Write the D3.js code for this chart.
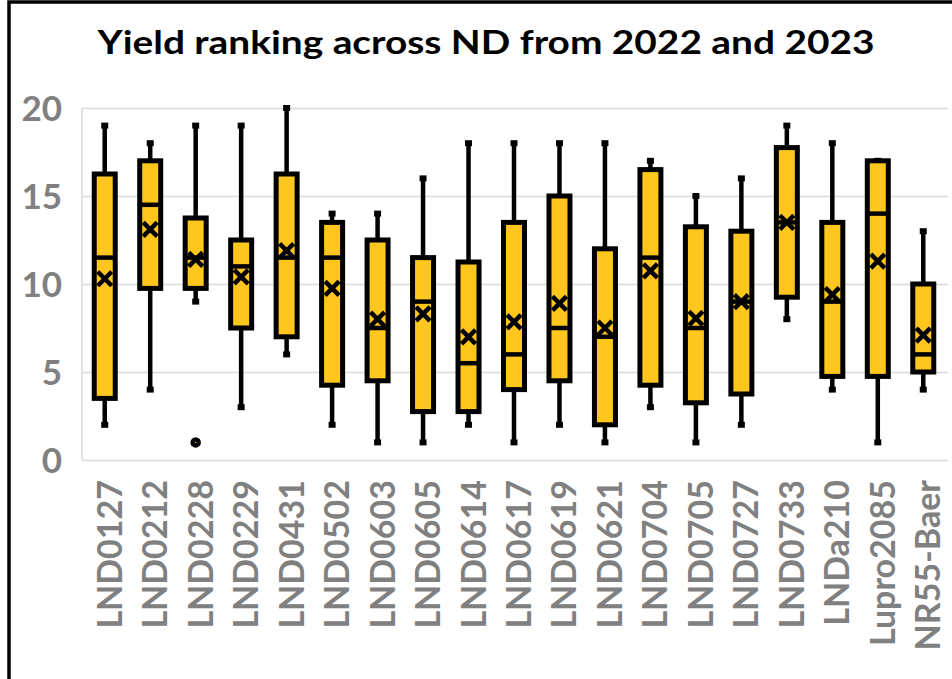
<!DOCTYPE html>
<html>
<head>
<meta charset="utf-8">
<script src="https://cdn.jsdelivr.net/npm/d3@7"></script>
<style>
  html, body { margin: 0; padding: 0; background: #fff; }
  svg { display: block; }
  .chart-box__title { font-family: Lato, "Open Sans", sans-serif; font-weight: 700; fill: #000; }
  .chart-box__tick { font-family: Lato, "Open Sans", sans-serif; font-weight: 700; fill: #808080; }
</style>
</head>
<body>
<div id="chart"></div>
<script>
// DATA ---------------------------------------------------------------
const categories = ["LND0127","LND0212","LND0228","LND0229","LND0431","LND0502","LND0603",
  "LND0605","LND0614","LND0617","LND0619","LND0621","LND0704","LND0705","LND0727",
  "LND0733","LNDa210","Lupro2085","NR55-Baer"];
const whiskerLow  = [2, 4, 9, 3, 6, 2, 1, 1, 2, 1, 2, 1, 3, 1, 2, 8, 4, 1, 4];
const q1          = [3.5, 9.75, 9.75, 7.5, 7, 4.25, 4.5, 2.75, 2.75, 4, 4.5, 2, 4.25, 3.25, 3.75, 9.25, 4.75, 4.75, 5];
const median      = [11.5, 14.5, 11.5, 11, 11.5, 11.5, 7.5, 9, 5.5, 6, 7.5, 7, 11.5, 7.5, 9, 13.5, 9, 14, 6];
const q3          = [16.25, 17, 13.75, 12.5, 16.25, 13.5, 12.5, 11.5, 11.25, 13.5, 15, 12, 16.5, 13.25, 13, 17.75, 13.5, 17, 10];
const whiskerHigh = [19, 18, 19, 19, 20, 14, 14, 16, 18, 18, 18, 18, 17, 15, 16, 19, 18, 17, 13];
const means       = [10.3, 13.1, 11.4, 10.4, 11.9, 9.75, 8.0, 8.3, 7.0, 7.85, 8.9, 7.5, 10.75, 8.05, 9.0, 13.5, 9.4, 11.3, 7.1];
const outliers    = [{cat: "LND0228", value: 1}];
const yTicks      = [0, 5, 10, 15, 20];
const titleText   = "Yield ranking across ND from 2022 and 2023";

// CHART --------------------------------------------------------------
class BoxChart {
  constructor(div) {
    this.container = div;
    this.settings = {
      width: 952,
      height: 679,
      plot: { left: 82, right: 946, top: 108, bottom: 460 },
      boxWidth: 21,
      fill: "#FFC61E",
      grid: "#D9D9D9",
    };
  }

  render() {
    this.createSvg();
    this.createScales();
    this.drawFrame();
    this.drawGrid();
    this.drawBoxes();
    this.drawAxisLabels();
    this.drawTitle();
  }

  createSvg() {
    const { width, height } = this.settings;
    this.svg = d3.select(this.container).append("svg")
      .attr("class", "chart-box")
      .attr("width", width)
      .attr("height", height);
  }

  createScales() {
    const { plot } = this.settings;
    this.x = d3.scaleBand().domain(categories).range([plot.left, plot.right]).padding(0);
    this.y = d3.scaleLinear().domain([0, 20]).range([plot.bottom, plot.top]);
  }

  drawFrame() {
    // outer chart border (only top/left visible in the crop)
    this.svg.append("rect")
      .attr("x", 9).attr("y", 2)
      .attr("width", 980).attr("height", 720)
      .attr("fill", "none").attr("stroke", "#000").attr("stroke-width", 3.5);
  }

  drawGrid() {
    const { plot, grid } = this.settings;
    const g = this.svg.append("g")
      .attr("class", "chart-box__grid")
      .attr("transform", `translate(${plot.left},0)`)
      .call(d3.axisLeft(this.y).tickValues(yTicks).tickSize(-(plot.right + 2 - plot.left)).tickFormat(""));
    g.select(".domain").remove();
    g.selectAll(".tick line").attr("stroke", grid).attr("stroke-width", 1.5);

    this.svg.append("line")
      .attr("x1", plot.left).attr("x2", plot.left)
      .attr("y1", this.y(20)).attr("y2", this.y(0))
      .attr("stroke", grid).attr("stroke-width", 1.5);
  }

  drawBoxes() {
    const { boxWidth, fill } = this.settings;
    const x = this.x, y = this.y;
    const cx = (c) => x(c) + x.bandwidth() / 2;
    const rows = categories.map((c, i) => ({
      cat: c, lo: whiskerLow[i], q1: q1[i], med: median[i], q3: q3[i], hi: whiskerHigh[i], mean: means[i]
    }));

    const groups = this.svg.append("g").attr("class", "chart-box__boxes")
      .selectAll("g").data(rows).enter().append("g");

    // whiskers
    groups.append("line")
      .attr("x1", d => cx(d.cat)).attr("x2", d => cx(d.cat))
      .attr("y1", d => y(d.hi)).attr("y2", d => y(d.lo))
      .attr("stroke", "#000").attr("stroke-width", 4.5);
    // caps
    ["hi", "lo"].forEach((k) => {
      groups.append("line")
        .attr("x1", d => cx(d.cat) - 3.5).attr("x2", d => cx(d.cat) + 3.5)
        .attr("y1", d => y(d[k])).attr("y2", d => y(d[k]))
        .attr("stroke", "#000").attr("stroke-width", 6);
    });
    // boxes
    groups.append("rect")
      .attr("x", d => cx(d.cat) - boxWidth / 2)
      .attr("width", boxWidth)
      .attr("y", d => y(d.q3))
      .attr("height", d => y(d.q1) - y(d.q3))
      .attr("fill", fill).attr("stroke", "#000").attr("stroke-width", 5);
    // medians
    groups.append("line")
      .attr("x1", d => cx(d.cat) - boxWidth / 2).attr("x2", d => cx(d.cat) + boxWidth / 2)
      .attr("y1", d => y(d.med)).attr("y2", d => y(d.med))
      .attr("stroke", "#000").attr("stroke-width", 4.5);
    // mean markers
    const s = 7;
    groups.append("path")
      .attr("d", d => {
        const px = cx(d.cat), py = y(d.mean);
        return `M${px - s},${py - s}L${px + s},${py + s}M${px - s},${py + s}L${px + s},${py - s}`;
      })
      .attr("stroke", "#000").attr("stroke-width", 4.5).attr("fill", "none");

    // outliers
    this.svg.append("g").selectAll("circle").data(outliers).enter().append("circle")
      .attr("cx", d => cx(d.cat)).attr("cy", d => y(d.value))
      .attr("r", 3)
      .attr("fill", fill).attr("stroke", "#000").attr("stroke-width", 4.5);
  }

  drawAxisLabels() {
    const { plot } = this.settings;
    const x = this.x, y = this.y;

    this.svg.append("g").selectAll("text").data(yTicks).enter().append("text")
      .attr("class", "chart-box__tick")
      .attr("x", 62).attr("y", d => y(d))
      .attr("dy", "0.36em")
      .attr("text-anchor", "end")
      .attr("font-size", 35)
      .text(d => d);

    this.svg.append("g").selectAll("text").data(categories).enter().append("text")
      .attr("class", "chart-box__tick")
      .attr("font-size", 34)
      .attr("text-anchor", "end")
      .attr("transform", d => `translate(${x(d) + x.bandwidth() / 2 + 17},${plot.bottom + 20}) rotate(-90)`)
      .text(d => d);
  }

  drawTitle() {
    this.svg.append("text")
      .attr("class", "chart-box__title")
      .attr("x", 486).attr("y", 54)
      .attr("text-anchor", "middle")
      .attr("font-size", 33)
      .attr("textLength", 777)
      .attr("lengthAdjust", "spacingAndGlyphs")
      .text(titleText);
  }
}

new BoxChart(document.getElementById("chart")).render();
</script>
</body>
</html>
